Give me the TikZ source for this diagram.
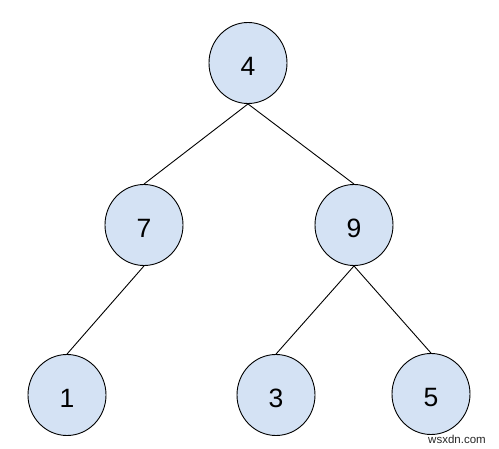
\documentclass[tikz,border=0pt]{standalone}
\usepackage{fontspec}
\setmainfont{Liberation Sans}
\usetikzlibrary{shapes.geometric}
\definecolor{nodefill}{HTML}{D4E2F4}
\begin{document}
\begin{tikzpicture}[x=1pt,y=-1pt,
  tnode/.style={ellipse,draw=black,line width=0.9pt,fill=nodefill,minimum width=78pt,minimum height=81pt,inner sep=0pt,text height=26pt,text depth=0pt,font=\fontsize{26.5}{30}\selectfont},
  edge/.style={draw=black,line width=0.9pt}]
\useasboundingbox (0,0) rectangle (499,449);
\node[tnode] (n4) at (248,63) {4};
\node[tnode] (n7) at (144,225) {7};
\node[tnode] (n9) at (354,225) {9};
\node[tnode] (n1) at (67,395) {1};
\node[tnode] (n3) at (276,395) {3};
\node[tnode] (n5) at (431,394) {5};
\draw[edge] (n4.south) -- (n7.north);
\draw[edge] (n4.south) -- (n9.north);
\draw[edge] (n7.south) -- (n1.north);
\draw[edge] (n9.south) -- (n3.north);
\draw[edge] (n9.south) -- (n5.north);
\node[font=\fontsize{11.5}{13}\selectfont,text=black!85] (wm) at (457,439) {wsxdn.com};
\end{tikzpicture}
\end{document}
